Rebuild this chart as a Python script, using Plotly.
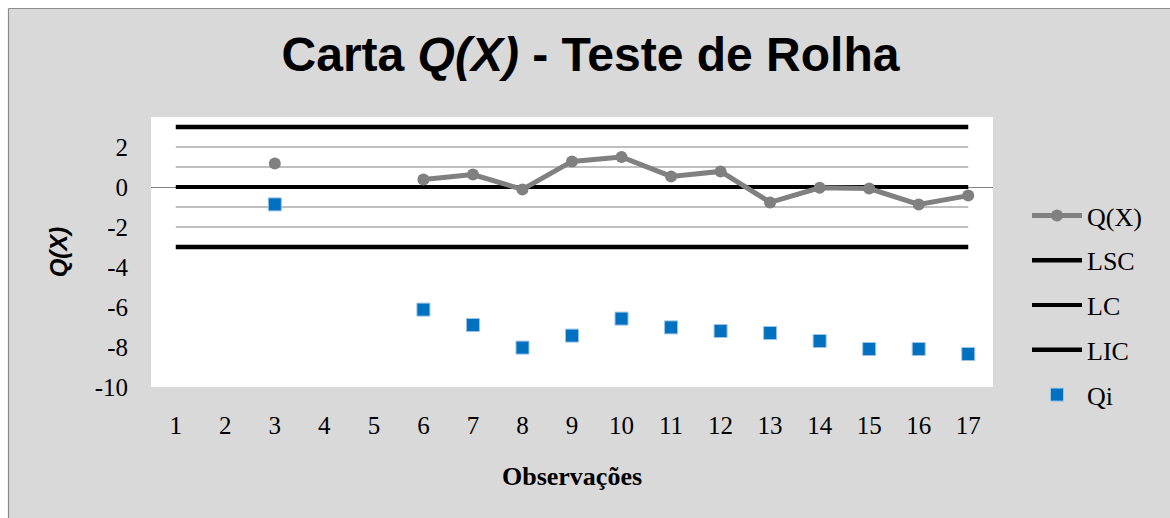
import plotly.graph_objects as go

observacoes = list(range(1, 18))
qx = [None, None, 1.17, None, None, 0.37, 0.62, -0.12, 1.28, 1.5, 0.53, 0.78, -0.77, -0.04, -0.08, -0.87, -0.43]
qi = [None, None, -0.87, None, None, -6.13, -6.9, -8.03, -7.43, -6.58, -7.02, -7.2, -7.3, -7.7, -8.1, -8.1, -8.35]
lsc = [3] * 17
lc = [0] * 17
lic = [-3] * 17
zona_sup2 = [2] * 17
zona_sup1 = [1] * 17
zona_inf1 = [-1] * 17
zona_inf2 = [-2] * 17
y_tickvals = [2, 0, -2, -4, -6, -8, -10]
y_ticktext = ["2", "0", "-2", "-4", "-6", "-8", "-10"]
x_ticktext = [str(v) for v in observacoes]

L, R, T, B = 151, 993, 117, 387
W, H = 1170, 518


def px(x):
    return (x - L) / (R - L)


def py(y):
    return (B - y) / (B - T)


fig = go.Figure()
for z in (zona_sup2, zona_sup1, zona_inf1, zona_inf2):
    fig.add_trace(go.Scatter(x=observacoes, y=z, mode="lines", showlegend=False,
                             line=dict(color="#bfbfbf", width=2), hoverinfo="skip"))

fig.add_trace(go.Scatter(x=observacoes, y=lsc, mode="lines", name="LSC", legendgroup="b", legendrank=2,
                         line=dict(color="black", width=4.5)))
fig.add_trace(go.Scatter(x=observacoes, y=lc, mode="lines", name="LC", legendgroup="c", legendrank=3,
                         line=dict(color="black", width=4)))
fig.add_trace(go.Scatter(x=observacoes, y=lic, mode="lines", name="LIC", legendgroup="d", legendrank=4,
                         line=dict(color="black", width=4.5)))
fig.add_trace(go.Scatter(x=observacoes, y=qx, mode="lines+markers", name="Q(X)", legendgroup="a", legendrank=1,
                         line=dict(color="#808080", width=5),
                         marker=dict(symbol="circle", size=12, color="#808080"),
                         connectgaps=False))
fig.add_trace(go.Scatter(x=observacoes, y=qi, mode="markers", name="Qi", legendgroup="e", legendrank=5,
                         marker=dict(symbol="square", size=13, color="#0070C0",
                                     line=dict(color="#9dc3e6", width=1))))

serif = "Liberation Serif"
fig.update_layout(
    width=W, height=H,
    margin=dict(l=L, r=W - R, t=T, b=H - B, autoexpand=False),
    paper_bgcolor="#d9d9d9",
    plot_bgcolor="white",
    title=dict(text="Carta <i>Q(X)</i> - Teste de Rolha", xref="container", yref="container",
               x=590.5 / W, xanchor="center", y=1 - 54 / H, yanchor="middle",
               font=dict(family="Liberation Sans", size=48, color="black", weight="bold")),
    xaxis=dict(range=[0.5, 17.5], tickvals=observacoes, ticktext=x_ticktext, showgrid=False,
               zeroline=False, showline=False, ticks="", ticklabelstandoff=21,
               tickfont=dict(family=serif, size=25, color="black"),
               title=dict(text="<b>Observações</b>", standoff=28,
                          font=dict(family=serif, size=26, color="black"))),
    yaxis=dict(range=[-10, 3.5], tickvals=y_tickvals, ticktext=y_ticktext, showgrid=False,
               zeroline=True, zerolinecolor="#868686", zerolinewidth=1, showline=False,
               ticks="", ticklabelstandoff=22,
               tickfont=dict(family=serif, size=25, color="black"),
               title=dict(text="<b><i>Q(X)</i></b>", standoff=20,
                          font=dict(family="Liberation Sans", size=24, color="black"))),
    legend=dict(x=px(1027), xanchor="left", y=py(192), yanchor="top",
                bgcolor="rgba(0,0,0,0)", font=dict(family=serif, size=26, color="black"),
                traceorder="grouped", tracegroupgap=8, itemwidth=50),
    showlegend=True,
    shapes=[
        dict(type="rect", xref="paper", yref="paper", x0=px(-5), x1=px(8), y0=py(H + 5), y1=py(-5),
             fillcolor="white", line=dict(width=0), layer="above"),
        dict(type="rect", xref="paper", yref="paper", x0=px(-5), x1=px(W + 5), y0=py(8), y1=py(-5),
             fillcolor="white", line=dict(width=0), layer="above"),
        dict(type="line", xref="paper", yref="paper", x0=px(8.5), x1=px(8.5), y0=py(8.5), y1=py(H + 5),
             line=dict(color="#8c8c8c", width=1.2), layer="above"),
        dict(type="line", xref="paper", yref="paper", x0=px(8.5), x1=px(W + 5), y0=py(8.5), y1=py(8.5),
             line=dict(color="#8c8c8c", width=1.2), layer="above"),
    ],
)

fig.write_html("out.html", config={"displayModeBar": False},
               post_script="document.body.style.margin='0';document.body.style.overflow='hidden';")
